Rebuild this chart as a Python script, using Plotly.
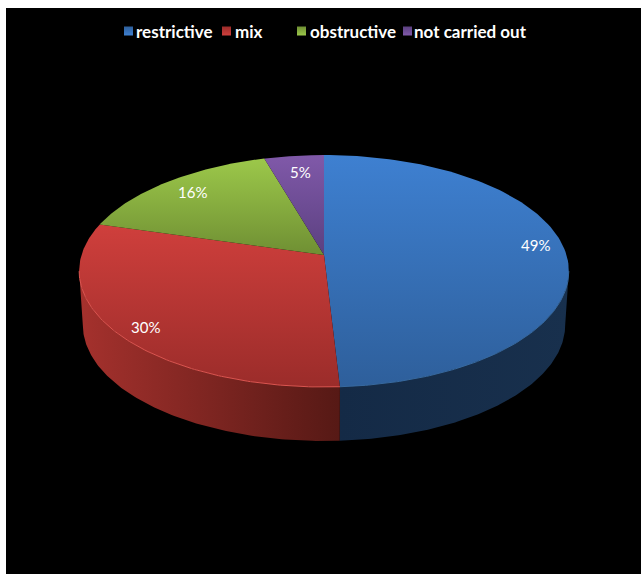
import math
import plotly.graph_objects as go

categories = ["restrictive", "mix", "obstructive", "not carried out"]
values = [49.1, 30.4, 16.0, 4.5]
value_labels = ["49%", "30%", "16%", "5%"]

# colours: top face (upper, lower), wall (left, right)
face_colors = [("#3e80d1", "#2e5f9b"), ("#cf3f3c", "#9b2c2a"), ("#9cc84a", "#6f8f33"), ("#8059a9", "#5b4080")]
wall_colors = [("#142a46", "#18304d"), ("#a5312d", "#561915")]
rim_colors = ["#37699f", "#dc5550"]

W, H = 641, 574
CX, APEX_Y, A, B, K = 324.0, 255.0, 242.5, -78.6, 0.138
DEPTH = 54.0
BOTTOM_SCALE = 0.985


def top(theta):
    X, Z = math.sin(theta), math.cos(theta)
    d = 1 + K * Z
    return CX + A * X / d, (APEX_Y + B * Z) / d


def bottom(theta):
    x, y = top(theta)
    return CX + (x - CX) * BOTTOM_SCALE, y + DEPTH


def arc(t0, t1, fn=top, n=120):
    pts = [fn(t0 + (t1 - t0) * i / n) for i in range(n + 1)]
    return [p[0] for p in pts], [p[1] for p in pts]


total = sum(values)
edges = [0.0]
for v in values:
    edges.append(edges[-1] + v / total * 2 * math.pi)

RIGHT_EXT = math.radians(98)
LEFT_EXT = math.radians(262)

fig = go.Figure()

# side walls (front of the pie only)
for i, (t0, t1) in enumerate([(RIGHT_EXT, edges[1]), (edges[1], LEFT_EXT)]):
    xa, ya = arc(t0, t1)
    xb, yb = arc(t1, t0, bottom)
    left_col, right_col = wall_colors[i]
    xs, ys = xa + xb + [xa[0]], ya + yb + [ya[0]]
    fig.add_trace(go.Scatter(
        x=xs, y=ys, mode="lines", fill="toself", line=dict(width=0), hoverinfo="skip", showlegend=False,
        fillgradient=dict(type="horizontal", start=min(xs), stop=max(xs),
                          colorscale=[[0, left_col], [1, right_col]]),
    ))

# top faces
for i, name in enumerate(categories):
    xa, ya = arc(edges[i], edges[i + 1])
    xs, ys = [CX] + xa + [CX], [APEX_Y] + ya + [APEX_Y]
    upper, lower = face_colors[i]
    fig.add_trace(go.Scatter(
        x=xs, y=ys, mode="lines", fill="toself", line=dict(width=0), name=name,
        hoverinfo="name", showlegend=False,
        fillgradient=dict(type="vertical", start=min(ys), stop=max(ys),
                          colorscale=[[0, upper], [1, lower]]),
    ))

# rim highlights
for i, (t0, t1) in enumerate([(RIGHT_EXT, edges[1]), (edges[1], LEFT_EXT)]):
    xa, ya = arc(t0, t1)
    fig.add_trace(go.Scatter(x=xa, y=ya, mode="lines", line=dict(width=1, color=rim_colors[i]),
                             hoverinfo="skip", showlegend=False))

# legend swatches
swatch_x = [128.5, 226.5, 301.5, 407.5]
text_x = [134, 233, 308, 412]
LEG_Y = 31
for i, name in enumerate(categories):
    upper, lower = face_colors[i]
    fig.add_trace(go.Scatter(
        x=[swatch_x[i]], y=[LEG_Y], mode="markers", hoverinfo="skip", showlegend=False,
        marker=dict(symbol="square", size=9, color=lower, line=dict(width=0),
                    gradient=dict(type="vertical", color=upper)),
    ))

annotations = []
for i, name in enumerate(categories):
    annotations.append(dict(x=text_x[i], y=LEG_Y, xref="x", yref="y", text=f"<b>{name}</b>", showarrow=False,
                            xanchor="left", yanchor="middle",
                            font=dict(family="Lato", size=17, color="white")))

label_x = [535, 145, 192, 300]
label_y = [245, 327, 192, 172]
for i, t in enumerate(value_labels):
    annotations.append(dict(x=label_x[i], y=label_y[i], xref="x", yref="y", text=t, showarrow=False,
                            font=dict(family="Lato", size=15, color="white")))

fig.update_layout(
    width=W, height=H,
    margin=dict(l=6, r=0, t=8, b=0, pad=0),
    paper_bgcolor="white", plot_bgcolor="black",
    xaxis=dict(range=[6, W], visible=False, fixedrange=True),
    yaxis=dict(range=[H, 8], visible=False, fixedrange=True),
    annotations=annotations,
    showlegend=False,
)

fig.write_html("out.html", config={"displayModeBar": False},
               post_script="document.body.style.margin='0';")
